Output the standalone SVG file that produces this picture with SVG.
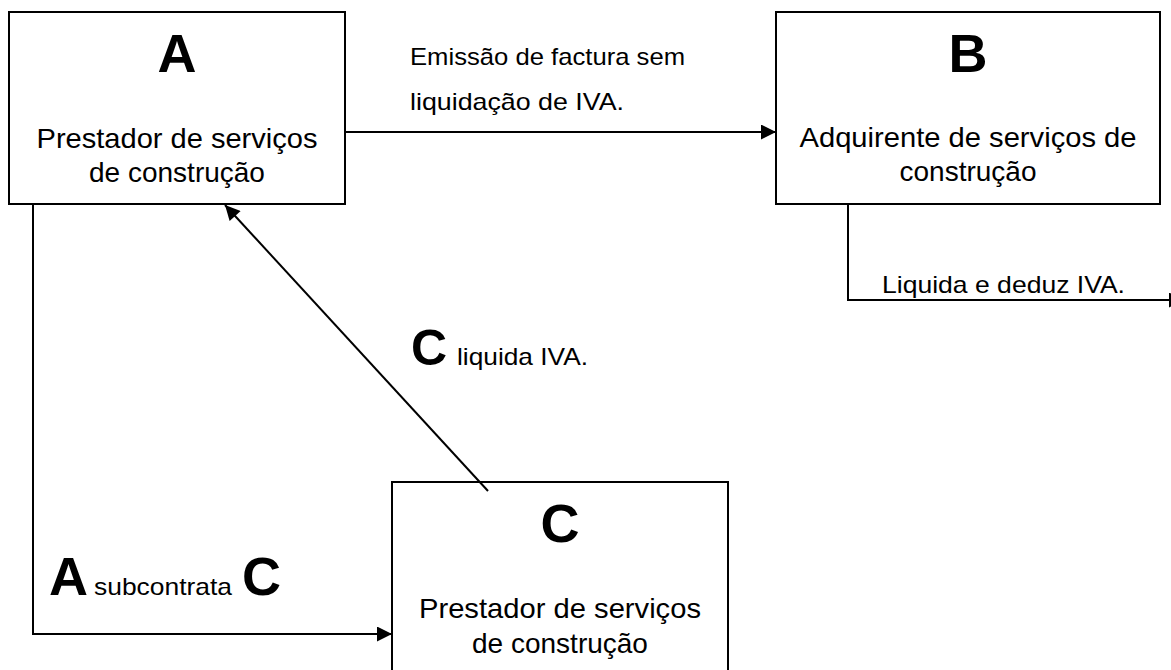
<svg xmlns="http://www.w3.org/2000/svg" width="1171" height="670" viewBox="0 0 1171 670">
<defs>
<marker id="arr" viewBox="0 0 10 10" refX="10" refY="5" markerUnits="userSpaceOnUse" markerWidth="17" markerHeight="15" orient="auto">
<path d="M0,0 L10,5 L0,10 z" fill="#000"/>
</marker>
<style>
.box{fill:#fff;stroke:#000;stroke-width:2}
.con{fill:none;stroke:#000;stroke-width:2}
text{font-family:"Liberation Sans",Arial,Helvetica,sans-serif;fill:#000}
.big{font-weight:bold;font-size:54px;text-anchor:middle}
.lbl{font-size:28px;text-anchor:middle}
.small{font-size:24px}
</style>
</defs>
<rect width="1171" height="670" fill="#fff"/>
<g id="nodeA">
<rect class="box" x="9" y="12" width="336" height="192"/>
<text class="big" x="177" y="72">A</text>
<text class="lbl" x="177" y="148" textLength="281" lengthAdjust="spacingAndGlyphs">Prestador de serviços</text>
<text class="lbl" x="177" y="182">de construção</text>
</g>
<g id="nodeB">
<rect class="box" x="776" y="12" width="384" height="192"/>
<text class="big" x="968" y="72">B</text>
<text class="lbl" x="968" y="147" textLength="337" lengthAdjust="spacingAndGlyphs">Adquirente de serviços de</text>
<text class="lbl" x="968" y="181">construção</text>
</g>
<g id="nodeC">
<rect class="box" x="392" y="482" width="336" height="200"/>
<text class="big" x="560" y="542">C</text>
<text class="lbl" x="560" y="618" textLength="282" lengthAdjust="spacingAndGlyphs">Prestador de serviços</text>
<text class="lbl" x="560" y="653">de construção</text>
</g>
<g id="connectors">
<line class="con" x1="345" y1="132" x2="776" y2="132" marker-end="url(#arr)"/>
<line class="con" x1="488" y1="491" x2="225" y2="205" marker-end="url(#arr)"/>
<polyline class="con" points="33,204 33,634 392,634" marker-end="url(#arr)"/>
<polyline class="con" points="848,204 848,300 1184,300" marker-end="url(#arr)"/>
</g>
<g id="labels">
<text class="small" x="410" y="65" textLength="275" lengthAdjust="spacingAndGlyphs">Emissão de factura sem</text>
<text class="small" x="410" y="110" textLength="214" lengthAdjust="spacingAndGlyphs">liquidação de IVA.</text>
<text class="small" x="882" y="293" textLength="243" lengthAdjust="spacingAndGlyphs">Liquida e deduz IVA.</text>
<text x="411" y="365" font-weight="bold" font-size="50">C</text>
<text class="small" x="457" y="365" textLength="131" lengthAdjust="spacingAndGlyphs">liquida IVA.</text>
<text x="49" y="595" font-weight="bold" font-size="54">A</text>
<text class="small" x="94" y="595" textLength="138" lengthAdjust="spacingAndGlyphs">subcontrata</text>
<text x="242" y="595" font-weight="bold" font-size="54">C</text>
</g>
</svg>
